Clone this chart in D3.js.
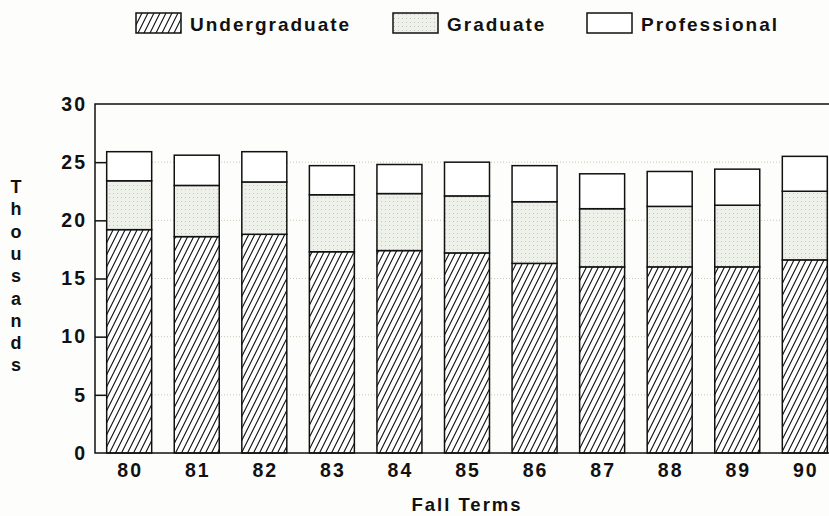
<!DOCTYPE html>
<html lang="en">
  <head>
    <meta charset="UTF-8" />
    <title>Fall Terms enrollment</title>
    <script src="https://d3js.org/d3.v7.min.js"></script>
    <style>
      body { margin: 0; background: #fdfdfb; }
      text { font-family: "Liberation Sans", Arial, sans-serif; font-weight: bold; fill: #111; }
    </style>
  </head>
  <body>
    <div id="my_dataviz"></div>
    <script>
      // fall terms (thousands)
      const years = ['80', '81', '82', '83', '84', '85', '86', '87', '88', '89', '90'];
      const undergraduate = [19.2, 18.6, 18.8, 17.3, 17.4, 17.2, 16.3, 16.0, 16.0, 16.0, 16.6];
      const graduate = [4.2, 4.4, 4.5, 4.9, 4.9, 4.9, 5.3, 5.0, 5.2, 5.3, 5.9];
      const professional = [2.5, 2.6, 2.6, 2.5, 2.5, 2.9, 3.1, 3.0, 3.0, 3.1, 3.0];
      const yTicks = [0, 5, 10, 15, 20, 25, 30];
      const seriesNames = ['Undergraduate', 'Graduate', 'Professional'];

      const W = 829, H = 516;
      const fills = ['url(#hatch)', 'url(#dots)', '#fff'];

      const svg = d3.select('#my_dataviz')
        .append('svg')
          .attr('width', W)
          .attr('height', H);

      const defs = svg.append('defs');

      const hatch = defs.append('pattern')
        .attr('id', 'hatch')
        .attr('patternUnits', 'userSpaceOnUse')
        .attr('width', 6)
        .attr('height', 12);
      hatch.append('rect').attr('width', 6).attr('height', 12).attr('fill', '#fff');
      hatch.append('path')
        .attr('d', 'M-1.5,15 L6.5,-1 M4.5,15 L12.5,-1 M-7.5,15 L0.5,-1')
        .attr('stroke', '#111')
        .attr('stroke-width', 1.1);

      const dots = defs.append('pattern')
        .attr('id', 'dots')
        .attr('patternUnits', 'userSpaceOnUse')
        .attr('width', 4)
        .attr('height', 4);
      dots.append('rect').attr('width', 4).attr('height', 4).attr('fill', '#eef0ea');
      dots.append('rect').attr('x', 1).attr('y', 1).attr('width', 1).attr('height', 1).attr('fill', '#c4c6bf');

      const table = years.map((y, i) => ({
        year: y,
        Undergraduate: undergraduate[i],
        Graduate: graduate[i],
        Professional: professional[i]
      }));

      const x = d3.scaleBand()
        .domain(years)
        .range([95, 839])
        .paddingInner(0.334)
        .paddingOuter(0.173);

      const y = d3.scaleLinear()
        .domain([0, 30])
        .range([453, 104]);

      // dotted grid between bars
      svg.append('g')
        .selectAll('line')
        .data(yTicks.filter(t => t > 0 && t < 30))
        .join('line')
          .attr('x1', 95)
          .attr('x2', 839)
          .attr('y1', d => y(d))
          .attr('y2', d => y(d))
          .attr('stroke', '#c9c9b6')
          .attr('stroke-width', 1)
          .attr('stroke-dasharray', '1,2');

      const stacked = d3.stack().keys(seriesNames)(table);

      svg.append('g')
        .selectAll('g')
        .data(stacked)
        .join('g')
          .attr('fill', (d, i) => fills[i])
        .selectAll('rect')
        .data(d => d)
        .join('rect')
          .attr('x', d => x(d.data.year))
          .attr('y', d => y(d[1]))
          .attr('width', x.bandwidth())
          .attr('height', d => y(d[0]) - y(d[1]))
          .attr('stroke', '#111')
          .attr('stroke-width', 1.5);

      // frame
      svg.append('path')
        .attr('d', `M839,${y(30)} H95 V${y(0)} H839`)
        .attr('fill', 'none')
        .attr('stroke', '#111')
        .attr('stroke-width', 1.5);

      const yAxis = svg.append('g')
        .attr('transform', 'translate(95,0)')
        .call(d3.axisLeft(y).tickValues(yTicks).tickSize(-11).tickSizeOuter(0).tickPadding(8));
      yAxis.select('.domain').remove();
      yAxis.selectAll('.tick line')
        .attr('stroke', '#111')
        .attr('stroke-width', 1.5)
        .filter(d => d === 0 || d === 30).remove();
      yAxis.selectAll('.tick text')
        .attr('font-size', 19.5)
        .attr('font-family', null)
        .attr('letter-spacing', 2)
        .attr('fill', '#111');

      const xAxis = svg.append('g')
        .attr('transform', `translate(0,${y(0)})`)
        .call(d3.axisBottom(x).tickSize(0).tickPadding(10));
      xAxis.select('.domain').remove();
      xAxis.selectAll('.tick text')
        .attr('font-size', 19.5)
        .attr('font-family', null)
        .attr('letter-spacing', 2)
        .attr('dx', 1)
        .attr('fill', '#111');

      svg.append('text')
        .attr('x', 467)
        .attr('y', 511)
        .attr('text-anchor', 'middle')
        .attr('font-size', 18.5)
        .attr('letter-spacing', 2)
        .text('Fall Terms');

      svg.append('g')
        .selectAll('text')
        .data('Thousands'.split(''))
        .join('text')
          .attr('x', 16)
          .attr('y', (d, i) => 193 + i * 22.3)
          .attr('text-anchor', 'middle')
          .attr('font-size', 18)
          .text(d => d);

      // legend
      const legendX = [136, 393, 587];
      const legend = svg.append('g')
        .selectAll('g')
        .data(seriesNames)
        .join('g')
          .attr('transform', (d, i) => `translate(${legendX[i]},13)`);
      legend.append('rect')
        .attr('width', 45)
        .attr('height', 20)
        .attr('fill', (d, i) => fills[i])
        .attr('stroke', '#111')
        .attr('stroke-width', 1.5);
      legend.append('text')
        .attr('x', 54)
        .attr('y', 18)
        .attr('font-size', 19)
        .attr('letter-spacing', 2)
        .text(d => d);
    </script>
  </body>
</html>
